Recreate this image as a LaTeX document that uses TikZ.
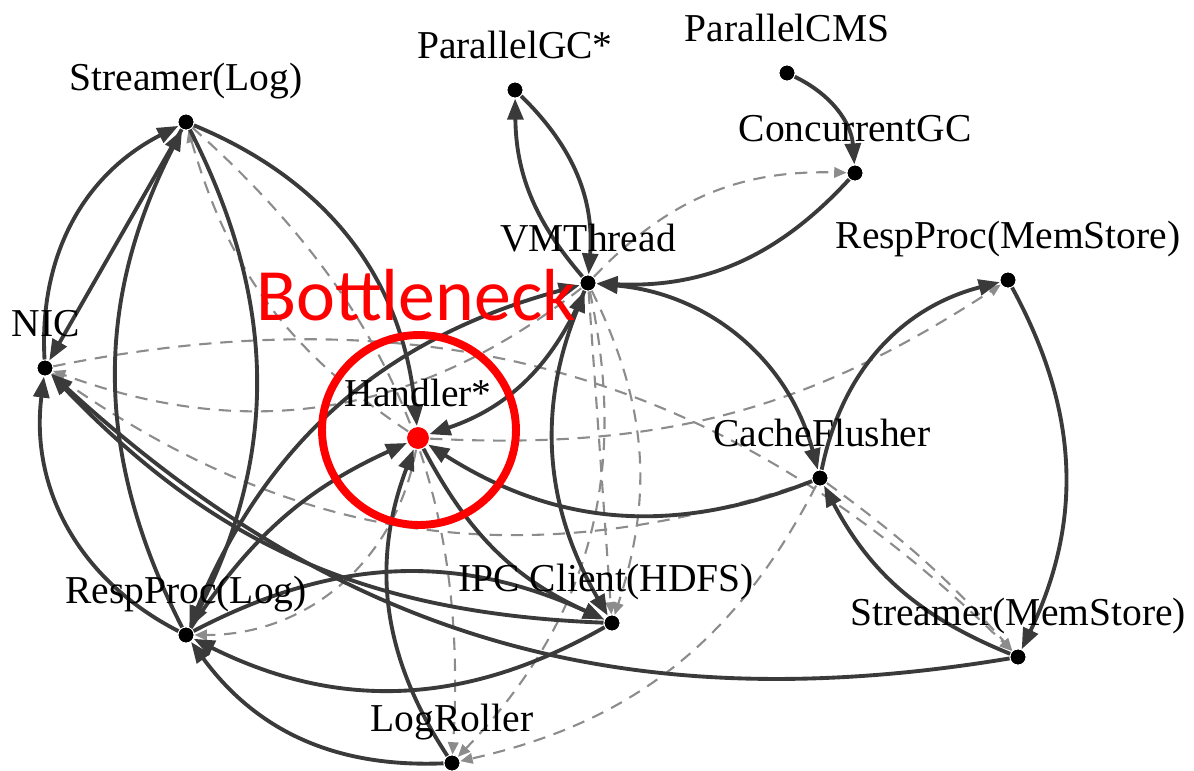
\documentclass[tikz,border=0pt]{standalone}
\usepackage{fontspec}
\setmainfont{Liberation Serif}
\newfontfamily\calib{Carlito}
\usetikzlibrary{arrows.meta}
\definecolor{edgec}{HTML}{3A3A3A}
\definecolor{dashc}{HTML}{8C8C8C}
\begin{document}
\begin{tikzpicture}[x=0.02cm,y=-0.02cm,
  dot/.style={circle,fill=black,draw=white,line width=0.6pt,inner sep=0pt,minimum size=0.32cm},
  hdot/.style={circle,fill=red,draw=white,line width=0.6pt,inner sep=0pt,minimum size=0.46cm},
  lab/.style={font=\fontsize{22.5}{26}\selectfont,anchor=base,inner sep=0pt},
  sol/.style={draw=edgec,line width=2.2pt,-{Triangle[length=12pt,width=9pt]}},
  solb/.style={draw=edgec,line width=2.2pt,{Triangle[length=12pt,width=9pt]}-{Triangle[length=12pt,width=9pt]}},
  das/.style={draw=dashc,line width=1.2pt,dash pattern=on 7pt off 5pt,-{Triangle[length=7pt,width=6pt]}},
]
\useasboundingbox (0,0) rectangle (1194,771);
% nodes
\node[dot] (pcms) at (787,73) {};
\node[dot] (pgc) at (515,90) {};
\node[dot] (sl) at (186,122) {};
\node[dot] (cgc) at (855,173) {};
\node[dot] (vm) at (588,283) {};
\node[dot] (rpm) at (1008,280) {};
\node[dot] (nic) at (45,368) {};
\node[hdot] (h) at (418,438) {};
\node[dot] (cf) at (820,478) {};
\node[dot] (ipc) at (612,623) {};
\node[dot] (rpl) at (186,635) {};
\node[dot] (sm) at (1018,657) {};
\node[dot] (lr) at (452,763) {};
% dashed edges
\draw[das] (vm) to[bend left=24] (cgc);
\draw[das] (nic) to[bend left=28] (sm);
\draw[das] (cf) to[bend left=27] (nic);
\draw[das] (vm) to[bend left=29] (nic);
\draw[das] (h) to[bend right=18] (rpm);
\draw[das] (sl) to[bend left=26] (lr);
\draw[das] (h) to[bend left=20] (sl);
\draw[das] (vm) to (ipc);
\draw[das] (vm) to[bend left=22] (ipc);
\draw[das] (vm) to[bend left=28] (lr);
\draw[das] (cf) to[bend left=25] (lr);
\draw[das] (cf) to[bend left=6] (sm);
\draw[das] (h) to[bend left=40] (rpl);
% solid edges
\draw[sol] (pcms) to[bend left=30] (cgc);
\draw[sol] (pgc) to[bend left=25] (vm);
\draw[sol] (vm) to[bend left=20] (pgc);
\draw[sol] (cgc) to[bend left=25] (vm);
\draw[solb] (vm) to[bend left=35] (cf);
\draw[sol] (cf) to[bend left=32] (rpm);
\draw[sol] (rpm) to[bend left=27] (sm);
\draw[sol] (sm) to[bend left=20] (cf);
\draw[sol] (ipc) to[bend left=28] (rpl);
\draw[sol] (rpl) to[bend left=26] (ipc);
\draw[sol] (ipc) to[bend left=22] (nic);
\draw[sol] (sm) to[bend left=26] (nic);
\draw[sol] (nic) to[bend left=33] (sl);
\draw[sol] (sl) to (nic);
\draw[sol] (rpl) to[bend left=27] (sl);
\draw[sol] (sl) to[bend left=27] (rpl);
\draw[sol] (rpl) to[bend left=35] (nic);
\draw[sol] (sl) to[bend left=31] (h);
\draw[sol] (vm) to[bend left=24] (h);
\draw[sol] (rpl) to[bend left=16] (h);
\draw[solb] (rpl) to[bend left=26] (vm);
\draw[sol] (lr) to[bend left=27] (h);
\draw[sol] (h) to[bend right=19] (ipc);
\draw[sol] (cf) to[bend left=27] (h);
\draw[solb] (vm) to[bend right=26] (ipc);
\draw[sol] (lr) to[bend left=28] (rpl);
% redraw dots on top
\foreach \n in {pcms,pgc,sl,cgc,vm,rpm,nic,cf,ipc,rpl,sm,lr}
  \fill[black] (\n) circle (0.145cm);
\fill[red] (h) circle (0.21cm);
% labels
\node[lab] (tpcms) at (787,41) {ParallelCMS};
\node[lab] (tpgc) at (515,58) {ParallelGC*};
\node[lab] (tsl) at (186,90) {Streamer(Log)};
\node[lab] (tcgc) at (855,141) {ConcurrentGC};
\node[lab] (tvm) at (588,251) {VMThread};
\node[lab] (trpm) at (1008,248) {RespProc(MemStore)};
\node[lab] (tnic) at (46,336) {NIC};
\node[lab] (th) at (418,406) {Handler*};
\node[lab] (tcf) at (822,446) {CacheFlusher};
\node[lab] (tipc) at (606,591) {IPC Client(HDFS)};
\node[lab] (trpl) at (186,603) {RespProc(Log)};
\node[lab] (tsm) at (1018,625) {Streamer(MemStore)};
\node[lab] (tlr) at (452,731) {LogRoller};
% highlight
\draw[red,line width=4.5pt] (419,430) ellipse [x radius=1.94cm,y radius=1.9cm];
\node[font=\calib\fontsize{42}{48}\selectfont,text=red,anchor=base,inner sep=0pt] (bn) at (416,320) {Bottleneck};
\end{tikzpicture}
\end{document}
